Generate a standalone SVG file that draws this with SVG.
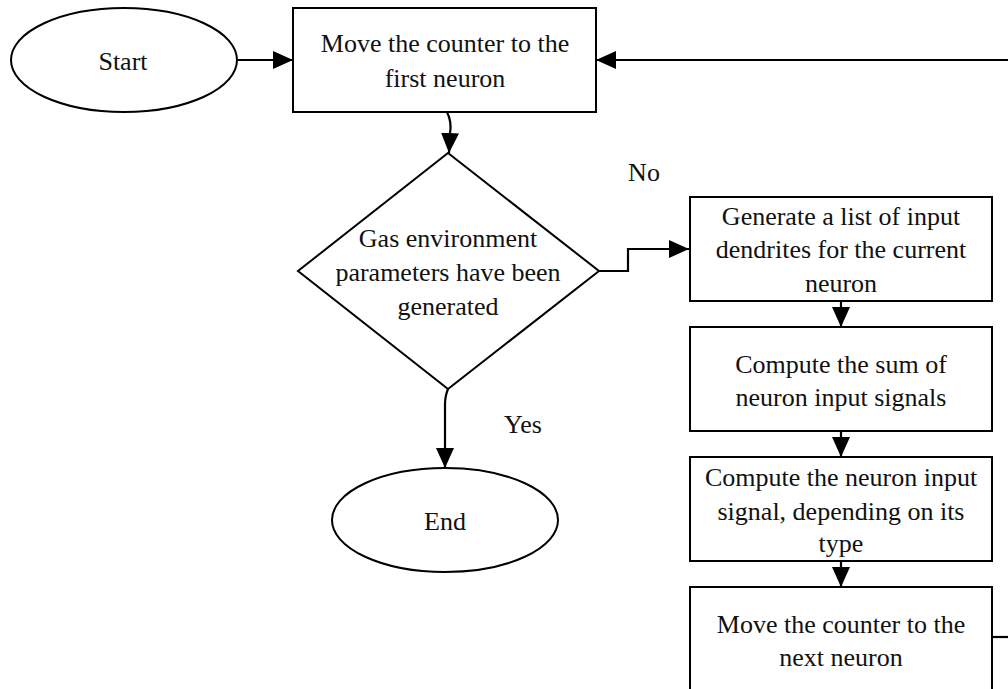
<svg xmlns="http://www.w3.org/2000/svg" width="1008" height="689" viewBox="0 0 1008 689">
<style>
.shape{fill:#fff;stroke:#000;stroke-width:2}
.t{font-family:"Liberation Serif","Times New Roman",serif;font-size:26px;fill:#111;text-anchor:middle}
.c{fill:none;stroke:#000;stroke-width:2.2}
</style>
<defs>
<marker id="arr" markerUnits="userSpaceOnUse" markerWidth="20" markerHeight="18" refX="20" refY="9" orient="auto">
<path d="M0,0 L20,9 L0,18 Z" fill="#000"/>
</marker>
</defs>
<rect width="1008" height="689" fill="#fff"/>
<g id="connectors">
<path class="c" d="M238,60 L293,60" marker-end="url(#arr)"/>
<path class="c" d="M1008,60 L596,60" marker-end="url(#arr)"/>
<path class="c" d="M447,112 Q452,122 450,133 L449,153" marker-end="url(#arr)"/>
<path class="c" d="M599,271 L628,271 L628,249 L689,249" marker-end="url(#arr)"/>
<path class="c" d="M448,389 Q445,396 445,405 L445,468" marker-end="url(#arr)"/>
<path class="c" d="M841,301 L841,327" marker-end="url(#arr)"/>
<path class="c" d="M841,431 L841,457" marker-end="url(#arr)"/>
<path class="c" d="M841,561 L841,587" marker-end="url(#arr)"/>
<path class="c" d="M992,637 L1008,637"/>
</g>
<g id="start">
<ellipse class="shape" cx="124" cy="60" rx="113" ry="52"/>
<text class="t" x="123" y="70">Start</text>
</g>
<g id="move-first">
<rect class="shape" x="293" y="8" width="303" height="104"/>
<text class="t" x="445" y="52">Move the counter to the</text>
<text class="t" x="445" y="87">first neuron</text>
</g>
<g id="decision">
<polygon class="shape" points="448,153 599,271 448,389 298,271"/>
<text class="t" x="448" y="247">Gas environment</text>
<text class="t" x="448" y="281">parameters have been</text>
<text class="t" x="448" y="315">generated</text>
</g>
<g id="label-no"><text class="t" x="644" y="181">No</text></g>
<g id="label-yes"><text class="t" x="523" y="433">Yes</text></g>
<g id="end">
<ellipse class="shape" cx="445" cy="520" rx="113" ry="52"/>
<text class="t" x="445" y="530">End</text>
</g>
<g id="gen-list">
<rect class="shape" x="690" y="197" width="302" height="104"/>
<text class="t" x="841" y="225">Generate a list of input</text>
<text class="t" x="841" y="258">dendrites for the current</text>
<text class="t" x="841" y="292">neuron</text>
</g>
<g id="sum">
<rect class="shape" x="690" y="327" width="302" height="104"/>
<text class="t" x="841" y="373">Compute the sum of</text>
<text class="t" x="841" y="406">neuron input signals</text>
</g>
<g id="input-signal">
<rect class="shape" x="690" y="457" width="302" height="104"/>
<text class="t" x="841" y="486">Compute the neuron input</text>
<text class="t" x="841" y="520">signal, depending on its</text>
<text class="t" x="841" y="552">type</text>
</g>
<g id="move-next">
<rect class="shape" x="690" y="587" width="302" height="120"/>
<text class="t" x="841" y="633">Move the counter to the</text>
<text class="t" x="841" y="666">next neuron</text>
</g>
</svg>
